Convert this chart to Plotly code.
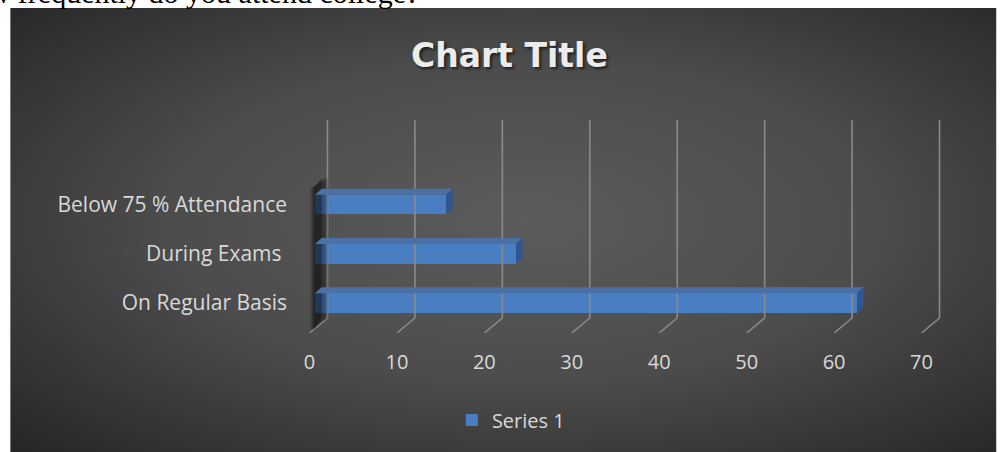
import base64
import plotly.graph_objects as go

# ---------------- data ----------------
categories = ["On Regular Basis", "During Exams ", "Below 75 % Attendance"]
values = [62, 23, 15]
series_name = "Series 1"
x_ticks = [0, 10, 20, 30, 40, 50, 60, 70]
title_text = "Chart Title"
doc_text = "How frequently do you attend college?"

# ---------------- geometry (data units) ----------------
W, H = 1000, 452
ML, MR, MT, MB = 292, 25.5, 0, 119
PW = W - ML - MR          # plot width px
PH = H - MT - MB          # plot height px
X0, X1 = -2, 76
PX_PER_Y = 49.25
Y_LO = -30 / PX_PER_Y
Y_HI = Y_LO + PH / PX_PER_Y


def py2d(py):
    return Y_LO + (PH - (py - MT)) / PX_PER_Y


def px2paper(px):
    return (px - ML) / PW


def py2paper(py):
    return (PH - (py - MT)) / PH


BACK_DX = 18 / 8.75       # depth offset of back wall in x units
GRID_TOP = py2d(120)
BACK_FLOOR = py2d(318)
FRONT = Y_LO
BAR_BASE = 5.5 / 8.75
BAR_H = 19.5 / PX_PER_Y
DEPTH_X = 6.5 / 8.75
DEPTH_Y = 6 / PX_PER_Y

ypos = list(range(len(categories)))

fig = go.Figure()

# back wall grid lines + floor slants
gx, gy = [], []
for v in x_ticks:
    gx += [v + BACK_DX, v + BACK_DX, v, None]
    gy += [GRID_TOP, BACK_FLOOR, FRONT, None]
fig.add_trace(go.Scatter(x=gx, y=gy, mode="lines",
                         line=dict(color="#8a8a8a", width=1.6),
                         hoverinfo="skip", showlegend=False))

# left wall shadow (soft)
for (xa, xb, op) in [(0.1, 2.1, 0.18), (0.3, 1.8, 0.22), (0.5, 1.4, 0.3)]:
    fig.add_trace(go.Scatter(
        x=[xa, xa, xb, xb, xa],
        y=[FRONT + 0.05, py2d(188), py2d(178), BACK_FLOOR, FRONT + 0.05],
        mode="lines", fill="toself", line=dict(width=0),
        fillcolor=f"rgba(0,0,0,{op})", hoverinfo="skip", showlegend=False))

# bars (front faces)
fig.add_trace(go.Bar(
    x=values, y=ypos, base=BAR_BASE, orientation="h", width=BAR_H,
    name=series_name, marker=dict(color="#4a7ec2", line=dict(width=0)),
    showlegend=True))

# top and side faces
for v, c in zip(values, ypos):
    end = BAR_BASE + v
    top = c + BAR_H / 2
    bot = c - BAR_H / 2
    fig.add_trace(go.Scatter(
        x=[BAR_BASE, end, end + DEPTH_X, BAR_BASE + DEPTH_X, BAR_BASE],
        y=[top, top, top + DEPTH_Y, top + DEPTH_Y, top],
        mode="lines", fill="toself", line=dict(width=0),
        fillcolor="#4a70a6", hoverinfo="skip", showlegend=False))
    fig.add_trace(go.Scatter(
        x=[end, end + DEPTH_X, end + DEPTH_X, end, end],
        y=[bot, bot + DEPTH_Y, top + DEPTH_Y, top, bot],
        mode="lines", fill="toself", line=dict(width=0),
        fillcolor="#2f5690", hoverinfo="skip", showlegend=False))

# background gradient
svg = (
    "<svg xmlns='http://www.w3.org/2000/svg' width='987' height='444' "
    "preserveAspectRatio='none' viewBox='0 0 987 444'>"
    "<defs><radialGradient id='g' cx='52%' cy='48%' r='72%'>"
    "<stop offset='0' stop-color='#5c5c5c'/>"
    "<stop offset='0.5' stop-color='#4c4c4c'/>"
    "<stop offset='1' stop-color='#272727'/>"
    "</radialGradient></defs>"
    "<rect width='987' height='444' fill='url(#g)'/></svg>"
)
src = "data:image/svg+xml;base64," + base64.b64encode(svg.encode()).decode()

fig.update_layout(
    width=W, height=H,
    margin=dict(l=ML, r=MR, t=MT, b=MB, pad=0),
    paper_bgcolor="white",
    plot_bgcolor="rgba(0,0,0,0)",
    images=[dict(source=src, xref="paper", yref="paper",
                 x=px2paper(10), y=py2paper(8),
                 sizex=987 / PW, sizey=444 / PH,
                 xanchor="left", yanchor="top", sizing="stretch",
                 layer="below")],
    xaxis=dict(range=[X0, X1], tickvals=x_ticks, showgrid=False,
               zeroline=False, showline=False, ticks="",
               ticklabelstandoff=15,
               tickfont=dict(family="Open Sans", size=20, color="#d9d9d9")),
    yaxis=dict(range=[Y_LO, Y_HI], tickvals=ypos, ticktext=categories,
               showgrid=False, zeroline=False, showline=False, ticks="",
               ticklabelstandoff=4,
               tickfont=dict(family="Open Sans", size=21, color="#d9d9d9")),
    legend=dict(x=px2paper(452), y=py2paper(420), xanchor="left",
                yanchor="middle", orientation="h",
                bgcolor="rgba(0,0,0,0)",
                font=dict(family="Open Sans", size=20, color="#d9d9d9")),
    annotations=[
        dict(text=title_text, xref="paper", yref="paper",
             x=px2paper(509.5), y=py2paper(56), xanchor="center",
             yanchor="middle", showarrow=False,
             font=dict(family="DejaVu Sans", size=33, color="#ececec",
                       weight="bold",
                       shadow="2px 2px 3px rgba(0,0,0,0.6)")),
        dict(text=doc_text, xref="paper", yref="paper",
             x=px2paper(421), y=py2paper(-8), xanchor="right",
             yanchor="middle", showarrow=False,
             font=dict(family="Liberation Serif", size=30, color="black")),
    ],
    bargap=0,
)

fig.write_html(
    "out.html",
    config={"displayModeBar": False},
    post_script="document.body.style.margin='0px';"
                "document.body.style.overflow='hidden';",
)
